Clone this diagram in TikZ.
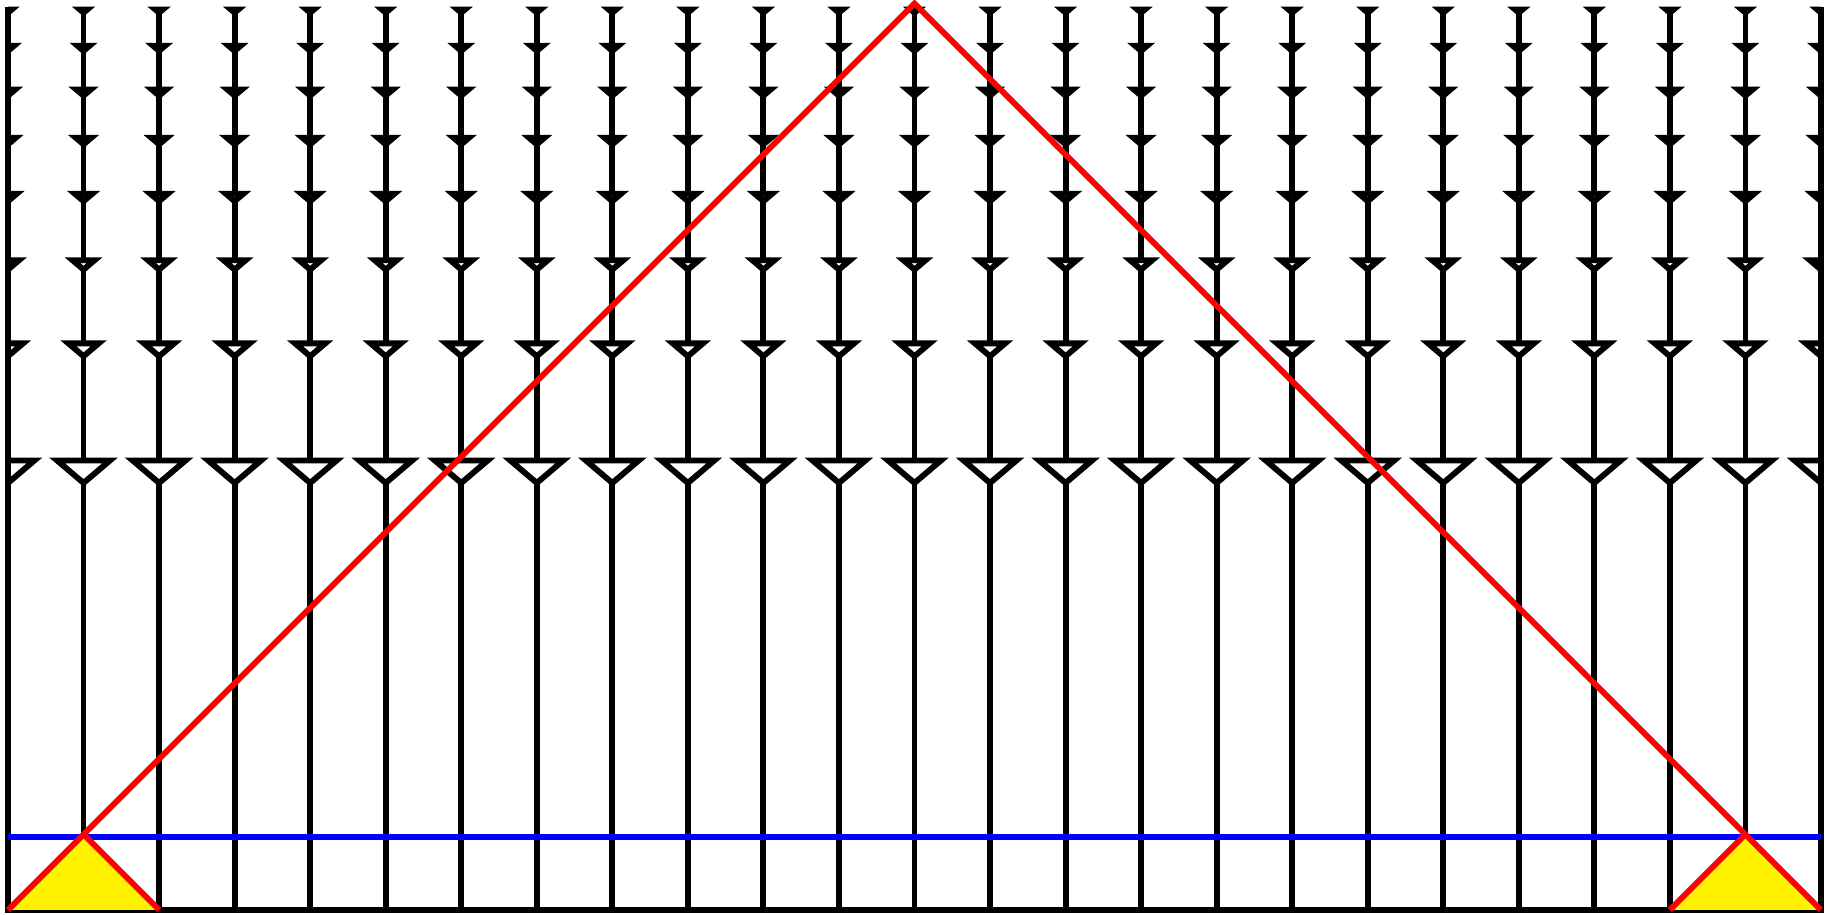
\documentclass[tikz,border=0pt]{standalone}
\usepackage{xcolor}

\begin{document}
\begin{tikzpicture}[line width=2.2pt]

        % Définition des styles
        \tikzset{
            rail/.style={draw=black},
            head/.style={draw=black, fill=white},
            cone/.style={draw=red},
            horizon/.style={draw=blue},
            patch/.style={fill=yellow}
        }

        \useasboundingbox (-0.106,-0.066) rectangle (24.146,12.046);

        % --- Lignes verticales ---
        \foreach \x in {1,...,23}
            \draw[rail] (\x,0) -- (\x,11.95);

        % --- Pointes de flèches (rangées) ---
        \begin{scope}
            \clip (0,0) rectangle (24,12.1);
            \foreach \y/\s in {11.92/0.05, 11.44/0.08, 10.86/0.095, 10.22/0.10, 9.48/0.115, 8.60/0.145, 7.50/0.2, 5.95/0.35}
                \foreach \x in {0,...,24}
                    \draw[head] (\x-\s,\y) -- (\x+\s,\y) -- (\x,\y-0.85*\s) -- cycle;
        \end{scope}

        % Cadre (gauche, bas, droite)
        \coordinate (tl) at (0,11.95);
        \coordinate (bl) at (0,0);
        \coordinate (br) at (24,0);
        \coordinate (tr) at (24,11.95);
        \draw[rail] (tl) -- (bl) -- (br) -- (tr);

        % --- Horizon (ligne bleue) ---
        \coordinate (hl) at (0,0.97);
        \coordinate (hr) at (24,0.97);
        \draw[horizon] (hl) -- (hr);

        % --- Cônes ---
        \coordinate (apex) at (12,12);
        \coordinate (pl) at (1,1);
        \coordinate (pr) at (23,1);
        \coordinate (ml) at (2,0);
        \coordinate (mr) at (22,0);
        \fill[patch] (bl) -- (pl) -- (ml) -- cycle;
        \fill[patch] (mr) -- (pr) -- (br) -- cycle;
        \draw[cone] (bl) -- (apex) -- (br);
        \draw[cone] (pl) -- (ml);
        \draw[cone] (mr) -- (pr);

\end{tikzpicture}
\end{document}
